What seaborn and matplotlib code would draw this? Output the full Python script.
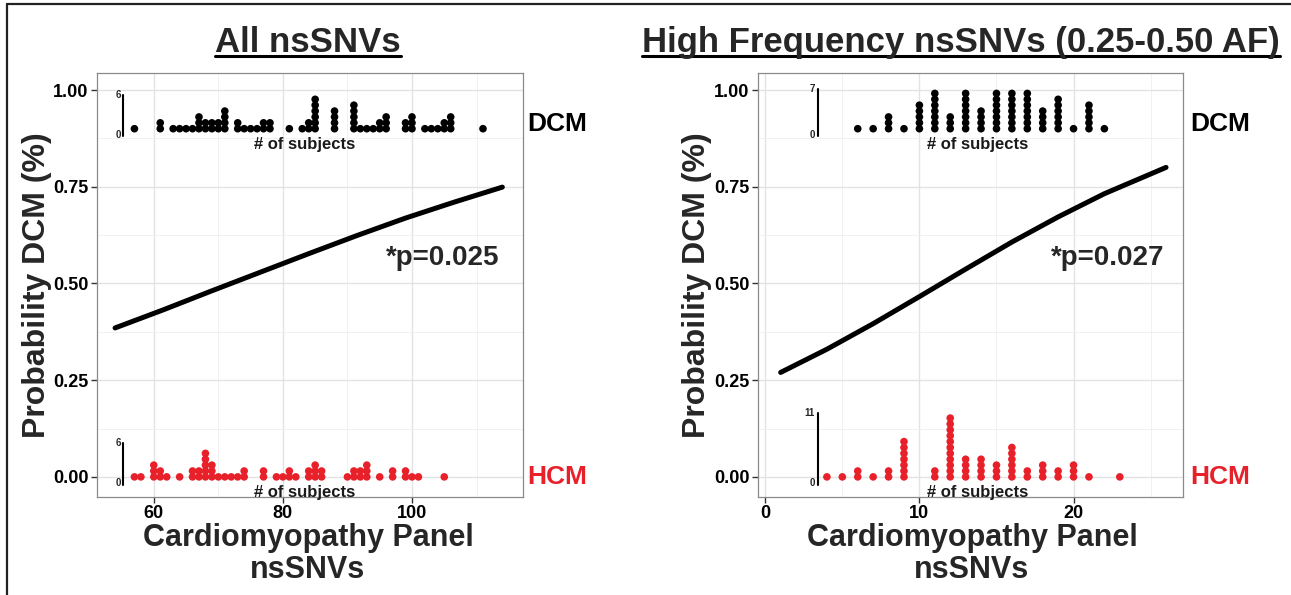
import numpy as np
import pandas as pd
import matplotlib
matplotlib.use("Agg")
import matplotlib.pyplot as plt
from matplotlib.lines import Line2D
from matplotlib.ticker import FixedLocator
import seaborn as sns

# ---------------- data ----------------
titles = ["All nsSNVs", "High Frequency nsSNVs (0.25-0.50 AF)"]

# dot-histogram counts (# of subjects per nsSNV count)
left_dcm_x = [57, 61, 63, 64, 65, 66, 67, 68, 69, 70, 71, 73, 74, 75, 76, 77, 78, 81, 83, 84, 85,
              88, 91, 92, 93, 94, 95, 96, 99, 100, 102, 103, 104, 105, 106, 111]
left_dcm_n = [1, 2, 1, 1, 1, 1, 3, 2, 2, 2, 4, 2, 1, 1, 1, 2, 2, 1, 1, 2, 6,
              4, 5, 1, 1, 1, 2, 3, 2, 3, 1, 1, 1, 2, 3, 1]
left_hcm_x = [57, 58, 60, 61, 62, 64, 66, 67, 68, 69, 70, 71, 72, 73, 74, 77, 79, 80, 81, 82,
              84, 85, 86, 90, 91, 92, 93, 95, 97, 99, 100, 101, 105]
left_hcm_n = [1, 1, 3, 2, 1, 1, 2, 2, 5, 3, 1, 1, 1, 1, 2, 2, 1, 1, 2, 1,
              2, 3, 2, 1, 2, 2, 3, 1, 2, 2, 1, 1, 1]

right_dcm_x = [6, 7, 8, 9, 10, 11, 12, 13, 14, 15, 16, 17, 18, 19, 20, 21, 22]
right_dcm_n = [1, 1, 3, 1, 5, 7, 3, 7, 4, 7, 7, 7, 4, 6, 1, 5, 1]
right_hcm_x = [4, 5, 6, 7, 8, 9, 11, 12, 13, 14, 15, 16, 17, 18, 19, 20, 21, 23]
right_hcm_n = [1, 1, 2, 1, 2, 7, 2, 11, 4, 4, 3, 6, 2, 3, 2, 3, 1, 1]

# fitted probability curves
left_curve_x = [54, 61.5, 69, 76.5, 84, 91.5, 99, 106.5, 114]
left_curve_y = [0.385, 0.432, 0.481, 0.529, 0.577, 0.624, 0.669, 0.710, 0.749]
right_curve_x = [1, 4, 7, 10, 13, 16, 19, 22, 26]
right_curve_y = [0.270, 0.330, 0.396, 0.466, 0.537, 0.607, 0.672, 0.732, 0.800]

p_labels = ["*p=0.025", "*p=0.027"]
inset_max_labels = [("6", "6"), ("7", "11")]   # (DCM, HCM)

left_xticks = [60, 80, 100]
left_xminor = [50, 70, 90, 110]
right_xticks = [0, 10, 20]
right_xminor = [5, 15, 25]
yticks = [0.0, 0.25, 0.50, 0.75, 1.00]
ytick_labels = ["0.00", "0.25", "0.50", "0.75", "1.00"]
yminor = [0.125, 0.375, 0.625, 0.875]

RED = "#E8202A"

# ---------------- style ----------------
sns.set_style("white")
plt.rcParams["font.family"] = ["Liberation Sans", "DejaVu Sans"]

W, H = 1291, 595
fig = plt.figure(figsize=(W / 100, H / 100), dpi=100)


def stacked(xs, ns, base, step, group):
    rows = []
    for x, n in zip(xs, ns):
        for k in range(n):
            rows.append({"x": x, "y": base + k * step, "group": group})
    return rows


STEP = 0.0152
panels = [
    dict(rect=[97 / W, 1 - 497 / H, 426 / W, 424 / H], xlim=(51.2, 117.2),
         xt=left_xticks, xm=left_xminor,
         dcm=(left_dcm_x, left_dcm_n), hcm=(left_hcm_x, left_hcm_n),
         curve=(left_curve_x, left_curve_y), inset_x=55.3, sub_x=83.3,
         p_xy=(104.8, 0.566), lab_ax_x=1.080, title_x=308, xlabel_x=308, ylabel_x=37),
    dict(rect=[758 / W, 1 - 497 / H, 425 / W, 424 / H], xlim=(-0.47, 27.1),
         xt=right_xticks, xm=right_xminor,
         dcm=(right_dcm_x, right_dcm_n), hcm=(right_hcm_x, right_hcm_n),
         curve=(right_curve_x, right_curve_y), inset_x=3.4, sub_x=13.8,
         p_xy=(22.2, 0.566), lab_ax_x=1.087, title_x=961, xlabel_x=972, ylabel_x=697),
]

title_texts = []
for i, pnl in enumerate(panels):
    ax = fig.add_axes(pnl["rect"])
    ax.set_xlim(*pnl["xlim"])
    ax.set_ylim(-0.052, 1.044)

    # grid
    ax.xaxis.set_major_locator(FixedLocator(pnl["xt"]))
    ax.xaxis.set_minor_locator(FixedLocator(pnl["xm"]))
    ax.yaxis.set_major_locator(FixedLocator(yticks))
    ax.yaxis.set_minor_locator(FixedLocator(yminor))
    ax.set_yticklabels(ytick_labels)
    ax.grid(which="major", color="#e3e3e3", lw=1.0, zorder=0)
    ax.grid(which="minor", color="#efefef", lw=0.6, zorder=0)
    ax.set_axisbelow(True)
    ax.tick_params(which="major", length=4, width=1, color="#333333", direction="out",
                   labelsize=13, labelcolor="black", pad=2, left=True, bottom=True)
    ax.tick_params(which="minor", length=0)
    for lab in ax.get_xticklabels() + ax.get_yticklabels():
        lab.set_fontweight("bold")
    for sp in ax.spines.values():
        sp.set_color("#8a8a8a")
        sp.set_linewidth(0.9)

    # dot histograms
    rows = stacked(*pnl["dcm"], 0.9, STEP, "DCM") + stacked(*pnl["hcm"], 0.0, STEP, "HCM")
    df = pd.DataFrame(rows)
    sns.scatterplot(data=df, x="x", y="y", hue="group", palette={"DCM": "black", "HCM": RED},
                    s=30, linewidth=0, legend=False, ax=ax, zorder=3)

    # probability curve
    sns.lineplot(x=pnl["curve"][0], y=pnl["curve"][1], color="black", lw=3.6, ax=ax,
                 zorder=4)
    ax.set_xlabel("")
    ax.set_ylabel("")

    # inset count axes
    for base, nmax, lab in [(0.9, pnl["dcm"][1], inset_max_labels[i][0]),
                            (0.0, pnl["hcm"][1], inset_max_labels[i][1])]:
        top = base + (int(lab) - 1) * STEP + 0.012
        bot = base - 0.02
        ax.plot([pnl["inset_x"]] * 2, [bot, top], color="black", lw=1.5, zorder=4)
        dx = (pnl["xlim"][1] - pnl["xlim"][0]) * 0.006
        ax.text(pnl["inset_x"] - dx, top, lab, ha="right", va="center", fontsize=7,
                fontweight="bold")
        ax.text(pnl["inset_x"] - dx, bot + 0.004, "0", ha="right", va="center", fontsize=7,
                fontweight="bold")
        ax.text(pnl["sub_x"], base - 0.041, "# of subjects", ha="center", va="center",
                fontsize=12, fontweight="bold", color="#1a1a1a", zorder=5)

    # p-value
    ax.text(*pnl["p_xy"], p_labels[i], ha="center", va="center", fontsize=20,
            fontweight="bold")

    # group labels outside the panel
    tr = ax.get_yaxis_transform()
    ax.text(pnl["lab_ax_x"], 0.912, "DCM", transform=tr, ha="center", va="center",
            fontsize=19, fontweight="bold", color="black", clip_on=False)
    ax.text(pnl["lab_ax_x"], 0.0, "HCM", transform=tr, ha="center", va="center",
            fontsize=19, fontweight="bold", color=RED, clip_on=False)

    # axis titles
    fig.text(pnl["ylabel_x"] / W, 1 - 285 / H, "Probability DCM (%)", rotation=90,
             ha="center", va="center", fontsize=23, fontweight="bold")
    fig.text(pnl["xlabel_x"] / W, 1 - 554 / H, "Cardiomyopathy Panel\nnsSNVs",
             ha="center", va="center", fontsize=22, fontweight="bold", linespacing=1.1)

    # panel title (underlined)
    t = fig.text(pnl["title_x"] / W, 1 - 52 / H, titles[i], ha="center", va="baseline",
                 fontsize=25, fontweight="bold",
                 family=["Liberation Sans Narrow", "Liberation Sans", "DejaVu Sans"])
    title_texts.append(t)

fig.canvas.draw()
renderer = fig.canvas.get_renderer()
for t in title_texts:
    bb = t.get_window_extent(renderer)
    y_ul = (H - 56) / H
    fig.add_artist(Line2D([bb.x0 / W, bb.x1 / W], [y_ul, y_ul], transform=fig.transFigure,
                          color="black", lw=2.2))

# outer frame (left and top edges visible in the reference)
fig.add_artist(Line2D([7 / W, 7 / W], [0, 1 - 4 / H], transform=fig.transFigure,
                      color="#222222", lw=1.6))
fig.add_artist(Line2D([7 / W, 1], [1 - 4 / H, 1 - 4 / H], transform=fig.transFigure,
                      color="#222222", lw=1.6))

fig.savefig("out.png", dpi=100)
